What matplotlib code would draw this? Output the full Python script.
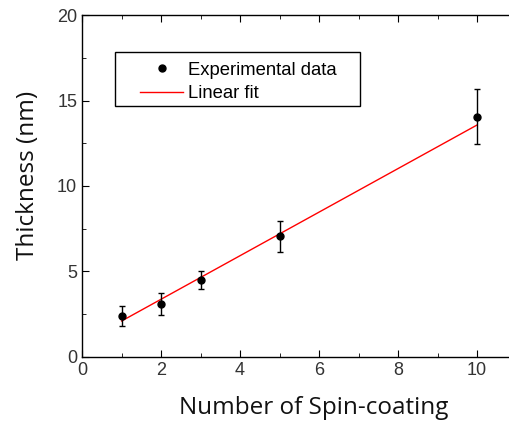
import numpy as np
import matplotlib
matplotlib.use("Agg")
import matplotlib.pyplot as plt
from matplotlib.ticker import MultipleLocator
from matplotlib.lines import Line2D
from matplotlib.patches import Rectangle

plt.rcParams['font.family'] = ['Liberation Sans', 'DejaVu Sans']

# ---- data ----
n_coat = [1, 2, 3, 5, 10]
thickness = [2.4, 3.1, 4.5, 7.05, 14.05]
thickness_err = [0.6, 0.65, 0.55, 0.9, 1.6]
fit_x = [1, 10]
fit_y = [2.1, 13.57]

fig = plt.figure(figsize=(5.1, 4.3), dpi=100)
ax = fig.add_axes([0.161, 0.170, 0.852, 0.795])

ax.plot(fit_x, fit_y, color='red', lw=1, zorder=2)
ax.errorbar(n_coat, thickness, yerr=thickness_err, fmt='o', color='black',
            ms=5, elinewidth=1, capsize=2.5, capthick=1, zorder=3)

ax.set_xlim(0, 11)
ax.set_ylim(0, 20)
ax.xaxis.set_major_locator(MultipleLocator(2))
ax.xaxis.set_minor_locator(MultipleLocator(1))
ax.yaxis.set_major_locator(MultipleLocator(5))
ax.yaxis.set_minor_locator(MultipleLocator(2.5))
ax.tick_params(which='both', direction='in', top=True, right=True,
               labelsize=13, labelcolor='#333333')
ax.tick_params(which='major', length=5)
ax.tick_params(which='minor', length=3)
for s in ax.spines.values():
    s.set_linewidth(1)

ax.set_xlabel('Number of Spin-coating', fontsize=17.5,
              family=['Open Sans', 'DejaVu Sans'], color='#111111')
ax.set_ylabel('Thickness (nm)', fontsize=17.5,
              family=['Open Sans', 'DejaVu Sans'], color='#111111')
ax.xaxis.set_label_coords(0.534, -0.115)
ax.yaxis.set_label_coords(-0.097, 0.532)

# legend box drawn by hand, legend entries without their own frame
ax.add_patch(Rectangle((0.076, 0.733), 0.564, 0.16, transform=ax.transAxes,
                       fill=False, edgecolor='black', lw=1, zorder=4))
handles = [Line2D([], [], ls='none', marker='o', color='black', ms=5),
           Line2D([], [], color='red', lw=1)]
labels = ['Experimental data', 'Linear fit']
leg = ax.legend(handles, labels, loc='upper left',
                bbox_to_anchor=(0.1335, 0.864), fontsize=13.3, frameon=False,
                handlelength=2.32, handletextpad=0.27, borderpad=0,
                labelspacing=0.37, borderaxespad=0)

fig.savefig('out.png', dpi=100)
